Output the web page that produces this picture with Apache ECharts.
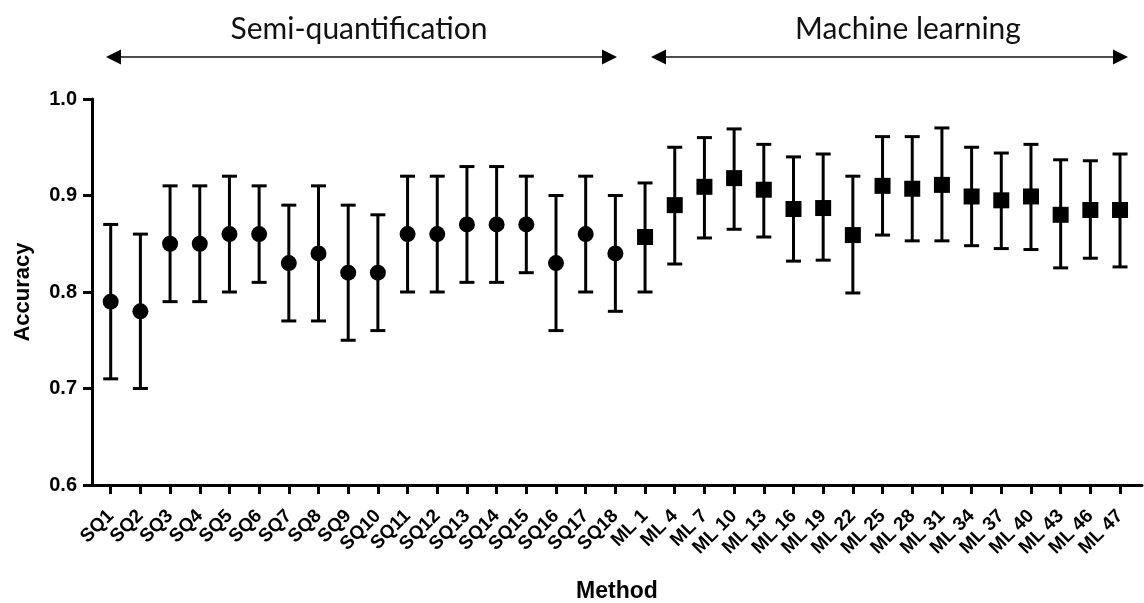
<!DOCTYPE html>
<html>
<head>
<meta charset="utf-8">
<script src="https://cdn.jsdelivr.net/npm/echarts@6/dist/echarts.min.js"></script>
<style>html,body{margin:0;padding:0;background:#fff}#c{width:1144px;height:603px}</style>
</head>
<body>
<div id="c"></div>
<script>
const categories = ['SQ1','SQ2','SQ3','SQ4','SQ5','SQ6','SQ7','SQ8','SQ9','SQ10','SQ11','SQ12','SQ13','SQ14','SQ15','SQ16','SQ17','SQ18',
  'ML 1','ML 4','ML 7','ML 10','ML 13','ML 16','ML 19','ML 22','ML 25','ML 28','ML 31','ML 34','ML 37','ML 40','ML 43','ML 46','ML 47'];
const sqMean  = [0.79,0.78,0.85,0.85,0.86,0.86,0.83,0.84,0.82,0.82,0.86,0.86,0.87,0.87,0.87,0.83,0.86,0.84];
const sqLower = [0.71,0.70,0.79,0.79,0.80,0.81,0.77,0.77,0.75,0.76,0.80,0.80,0.81,0.81,0.82,0.76,0.80,0.78];
const sqUpper = [0.87,0.86,0.91,0.91,0.92,0.91,0.89,0.91,0.89,0.88,0.92,0.92,0.93,0.93,0.92,0.90,0.92,0.90];
const mlMean  = [0.857,0.890,0.909,0.918,0.906,0.886,0.887,0.859,0.910,0.907,0.911,0.899,0.895,0.899,0.880,0.885,0.885];
const mlLower = [0.800,0.829,0.856,0.865,0.857,0.832,0.833,0.799,0.859,0.853,0.853,0.848,0.845,0.844,0.825,0.835,0.826];
const mlUpper = [0.913,0.950,0.960,0.969,0.953,0.940,0.943,0.920,0.961,0.961,0.970,0.950,0.944,0.953,0.937,0.936,0.943];
const yTicks = [0.6, 0.7, 0.8, 0.9, 1.0];

const nSQ = sqMean.length;
const catIdx = categories.map((c,i)=>i);
const meanSQ = sqMean.map((v,i)=>[i, v]);
const meanML = mlMean.map((v,i)=>[i+nSQ, v]);
const errData = sqMean.map((v,i)=>[i, sqLower[i], sqUpper[i]])
  .concat(mlMean.map((v,i)=>[i+nSQ, mlLower[i], mlUpper[i]]));

const chart = echarts.init(document.getElementById('c'));
const bold = {fontFamily:'"Liberation Sans", Arial, sans-serif', fontWeight:'bold', color:'#000'};
const lw = 3;
chart.setOption({
  animation:false,
  backgroundColor:'#fff',
  grid:{left:92, right:2, top:99, bottom:118, containLabel:false, outerBoundsMode:'none'},
  xAxis:{
    type:'value', min:-0.63, max:categories.length - 1 + 0.74,
    name:'Method', nameLocation:'middle', nameGap:95,
    nameTextStyle:Object.assign({fontSize:23}, bold),
    axisLine:{show:true, onZero:false, lineStyle:{color:'#000', width:lw}},
    axisTick:{show:true, customValues:catIdx, length:9, lineStyle:{color:'#000', width:lw}},
    splitLine:{show:false},
    axisLabel:Object.assign({customValues:catIdx, rotate:45, fontSize:19, margin:28,
      formatter:v=>categories[Math.round(v)]}, bold)
  },
  yAxis:{
    type:'value', min:yTicks[0], max:yTicks[yTicks.length-1], interval:0.1,
    name:'Accuracy', nameLocation:'middle', nameGap:58, nameRotate:90,
    nameTextStyle:Object.assign({fontSize:22}, bold),
    axisLine:{show:true, onZero:false, lineStyle:{color:'#000', width:lw}},
    axisTick:{show:true, length:9, lineStyle:{color:'#000', width:lw}},
    splitLine:{show:false},
    axisLabel:Object.assign({fontSize:20, margin:15, formatter:v=>v.toFixed(1)}, bold)
  },
  series:[
    {
      type:'custom', data:errData, z:2,
      renderItem:function(params, api){
        const x = api.value(0);
        const lo = api.coord([x, api.value(1)]);
        const hi = api.coord([x, api.value(2)]);
        const hw = 7.5;
        const st = {stroke:'#000', lineWidth:lw, fill:null};
        return {type:'group', children:[
          {type:'line', shape:{x1:lo[0], y1:lo[1], x2:hi[0], y2:hi[1]}, style:st},
          {type:'line', shape:{x1:hi[0]-hw, y1:hi[1], x2:hi[0]+hw, y2:hi[1]}, style:st},
          {type:'line', shape:{x1:lo[0]-hw, y1:lo[1], x2:lo[0]+hw, y2:lo[1]}, style:st}
        ]};
      }
    },
    {type:'scatter', data:meanSQ, symbol:'circle', symbolSize:16, itemStyle:{color:'#000', opacity:1}, z:3},
    {type:'scatter', data:meanML, symbol:'rect', symbolSize:16, itemStyle:{color:'#000', opacity:1}, z:3}
  ],
  graphic:[
    {type:'text', x:359, y:29, style:{text:'Semi-quantification', font:'30px Lato, "Open Sans", sans-serif', fill:'#111', textAlign:'center', textVerticalAlign:'middle'}},
    {type:'line', shape:{x1:115, y1:57, x2:608, y2:57}, style:{stroke:'#111', lineWidth:1.6}},
    {type:'polygon', shape:{points:[[106,57],[121,49.5],[121,64.5]]}, style:{fill:'#000'}},
    {type:'polygon', shape:{points:[[617,57],[602,49.5],[602,64.5]]}, style:{fill:'#000'}},
    {type:'text', x:908, y:29, style:{text:'Machine learning', font:'30px Lato, "Open Sans", sans-serif', fill:'#111', textAlign:'center', textVerticalAlign:'middle'}},
    {type:'line', shape:{x1:660, y1:57, x2:1120, y2:57}, style:{stroke:'#111', lineWidth:1.6}},
    {type:'polygon', shape:{points:[[651,57],[666,49.5],[666,64.5]]}, style:{fill:'#000'}},
    {type:'polygon', shape:{points:[[1128,57],[1113,49.5],[1113,64.5]]}, style:{fill:'#000'}}
  ]
});
</script>
</body>
</html>
